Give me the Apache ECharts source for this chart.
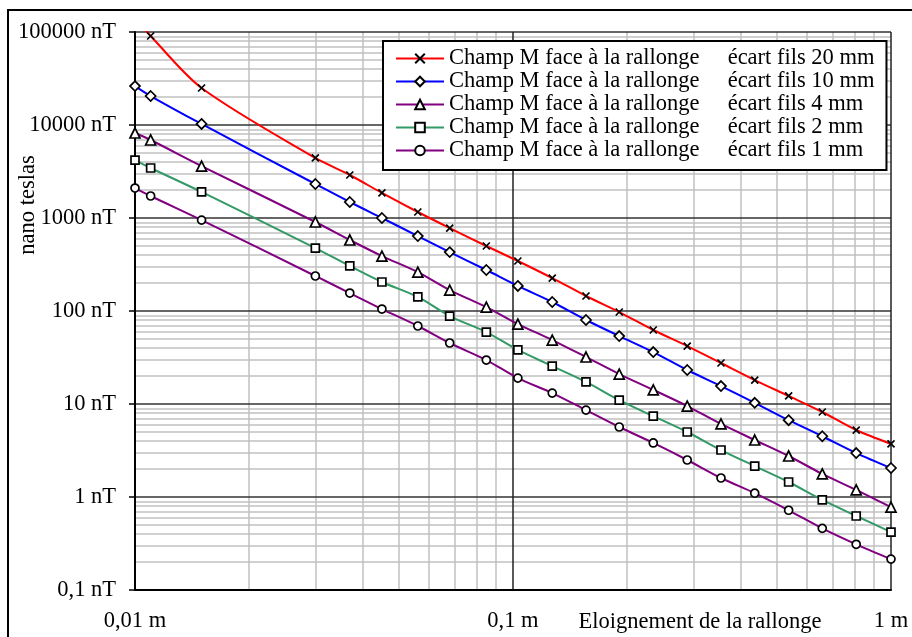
<!DOCTYPE html>
<html>
<head>
<meta charset="utf-8">
<script src="https://cdn.jsdelivr.net/npm/echarts@6/dist/echarts.min.js"></script>
<style>html,body{margin:0;padding:0;background:#fff}#c{width:912px;height:637px}</style>
</head>
<body>
<div id="c"></div>
<script>
// distances (m)
const distances = [0.01, 0.011, 0.015, 0.03, 0.037, 0.045, 0.056, 0.068, 0.085, 0.103, 0.127, 0.156, 0.191, 0.235, 0.289, 0.355, 0.436, 0.536, 0.658, 0.809, 1.0];
// field values (nT)
const champ20mm = [140000, 90600, 25000, 4420, 2900, 1860, 1160, 780, 500, 345, 226, 145, 97.5, 62.5, 42, 27.6, 18.1, 12.2, 8.2, 5.25, 3.72];
const champ10mm = [26200, 20500, 10260, 2320, 1486, 1000, 640, 430, 276, 186, 125, 80, 53.8, 36.2, 23.2, 15.6, 10.3, 6.7, 4.5, 2.97, 2.05];
const champ4mm  = [8200, 6900, 3620, 906, 580, 390, 262, 168, 110, 72.4, 48.7, 32, 21, 14.2, 9.5, 6.1, 4.1, 2.76, 1.77, 1.19, 0.78];
const champ2mm  = [4200, 3450, 1905, 475, 305, 205, 141.6, 88.3, 59.4, 38.1, 25.6, 17.3, 11.0, 7.4, 5.0, 3.2, 2.15, 1.45, 0.93, 0.625, 0.42];
const champ1mm  = [2100, 1725, 950, 238, 156, 105, 69, 45.3, 29.7, 19.0, 13.1, 8.6, 5.66, 3.81, 2.5, 1.6, 1.10, 0.72, 0.46, 0.31, 0.215];

const seriesNames = [
  'Champ M face à la rallonge     écart fils 20 mm',
  'Champ M face à la rallonge     écart fils 10 mm',
  'Champ M face à la rallonge     écart fils 4 mm',
  'Champ M face à la rallonge     écart fils 2 mm',
  'Champ M face à la rallonge     écart fils 1 mm'
];
// axis decades and minor grid multipliers
const xDecades = [0.01, 0.1];
const yDecades = [0.1, 1, 10, 100, 1000, 10000];
const minorSteps = [2, 3, 4, 5, 6, 7, 8, 9];
const xAxisName = 'Eloignement de la rallonge';
const yAxisName = 'nano teslas';

const FONT = "'Liberation Serif', 'Times New Roman', serif";
const FS = 22.5;

function fmt(v) {
  return String(Number(v.toPrecision(6))).replace('.', ',');
}

const minorX = [];
xDecades.forEach(d => minorSteps.forEach(m => minorX.push(Number((d * m).toPrecision(6)))));
const minorY = [];
yDecades.forEach(d => minorSteps.forEach(m => minorY.push(Number((d * m).toPrecision(6)))));

const colors = ['#ff0000', '#0000ff', '#800080', '#339966', '#800080'];
const symbols = ['path://M0,0L10,10M10,0L0,10', 'diamond', 'triangle', 'rect', 'circle'];
const symbolSizes = [7, 10, 10, 8, 8];
const values = [champ20mm, champ10mm, champ4mm, champ2mm, champ1mm];

const series = values.map((vals, i) => ({
  name: seriesNames[i],
  type: 'line',
  smooth: 0.3,
  data: distances.map((x, k) => [x, vals[k]]),
  symbol: symbols[i],
  symbolSize: symbolSizes[i],
  showAllSymbol: true,
  lineStyle: { color: colors[i], width: 2 },
  itemStyle: { color: i === 0 ? '#000' : '#fff', borderColor: '#000', borderWidth: 1.7 },
  z: 3
}));

series.push({
  name: 'grid',
  type: 'line',
  data: [],
  silent: true,
  markLine: {
    silent: true,
    z: 1,
    animation: false,
    symbol: ['none', 'none'],
    label: { show: false },
    emphasis: { disabled: true },
    lineStyle: { color: '#c0c0c0', width: 1.5, type: 'solid' },
    data: minorX.map(v => ({ xAxis: v })).concat(minorY.map(v => ({ yAxis: v })))
  }
});

const chart = echarts.init(document.getElementById('c'), null, { renderer: 'canvas' });
chart.setOption({
  animation: false,
  backgroundColor: '#fff',
  grid: { left: 135, right: 21, top: 32, bottom: 47, containLabel: false },
  xAxis: {
    type: 'log',
    logBase: 10,
    min: 0.01,
    max: 1,
    z: 2,
    axisLine: { show: true, lineStyle: { color: '#000', width: 2 } },
    axisTick: { show: false },
    axisLabel: {
      margin: 20,
      color: '#000',
      fontFamily: FONT,
      fontSize: FS,
      formatter: v => fmt(v) + ' m'
    },
    splitLine: { show: true, lineStyle: { color: '#222', width: 1.5 } },
    minorTick: { show: false },
    minorSplitLine: { show: false }
  },
  yAxis: {
    type: 'log',
    logBase: 10,
    min: 0.1,
    max: 100000,
    z: 2,
    axisLine: { show: true, lineStyle: { color: '#000', width: 2 } },
    axisTick: { show: true, length: 6, lineStyle: { color: '#000', width: 1.5 } },
    axisLabel: {
      margin: 19,
      color: '#000',
      fontFamily: FONT,
      fontSize: FS,
      formatter: v => fmt(v) + ' nT'
    },
    splitLine: { show: true, lineStyle: { color: '#333', width: 1.5 } }
  },
  legend: {
    orient: 'vertical',
    left: 383,
    top: 41,
    data: seriesNames,
    backgroundColor: '#fff',
    borderColor: '#000',
    borderWidth: 2,
    borderRadius: 0,
    padding: [6, 12, 8, 12],
    itemWidth: 48,
    itemHeight: 12,
    itemGap: 0,
    selectedMode: false,
    textStyle: { color: '#000', fontFamily: FONT, fontSize: FS, lineHeight: 23 }
  },
  graphic: [
    {
      type: 'rect',
      silent: true,
      z: 10,
      shape: { x: 8, y: 10, width: 920, height: 640 },
      style: { fill: 'none', stroke: '#000', lineWidth: 2 }
    },
    {
      type: 'text',
      silent: true,
      x: 28,
      y: 205,
      rotation: Math.PI / 2,
      style: { text: yAxisName, fill: '#000', font: FS + 'px ' + FONT, align: 'center', verticalAlign: 'middle' }
    },
    {
      type: 'text',
      silent: true,
      x: 700,
      y: 622,
      style: { text: xAxisName, fill: '#000', font: FS + 'px ' + FONT, align: 'center', verticalAlign: 'middle' }
    }
  ],
  series: series
});
</script>
</body>
</html>
